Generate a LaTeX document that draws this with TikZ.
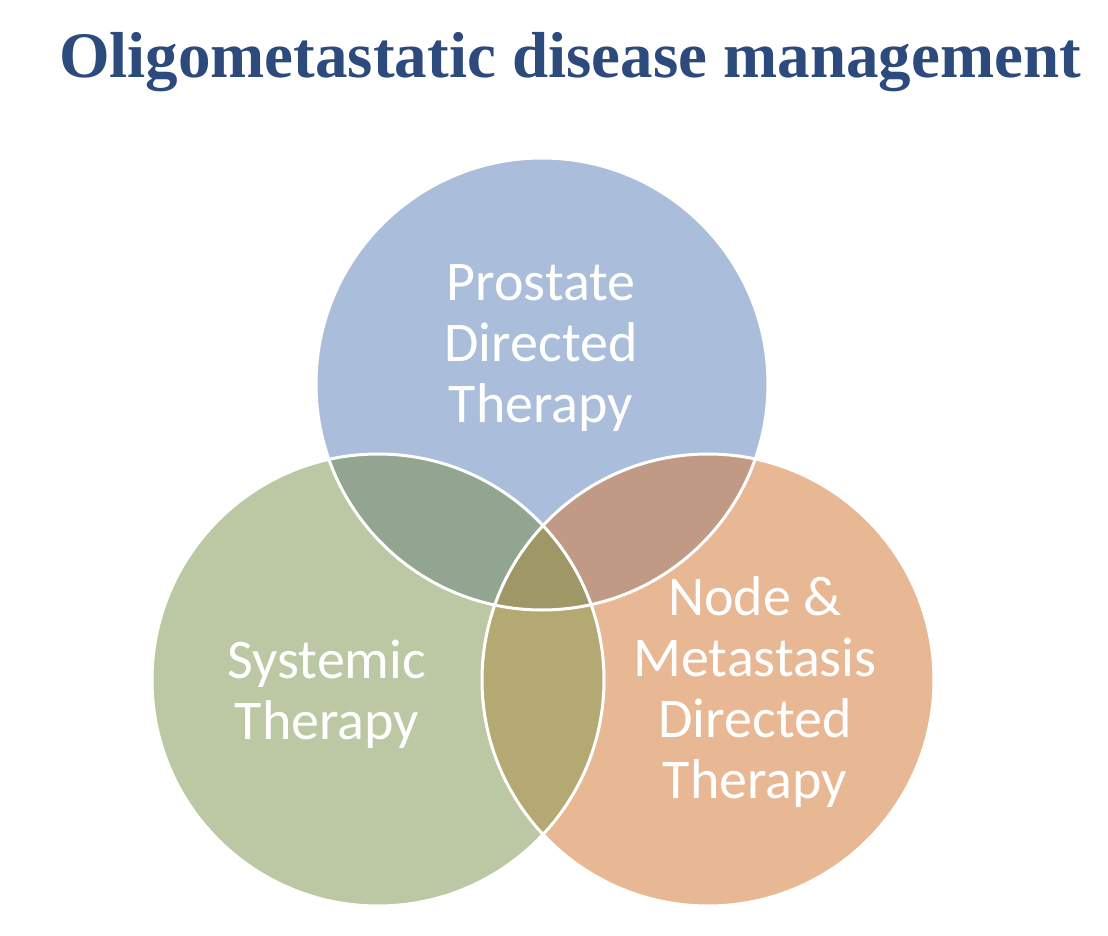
\documentclass[tikz,border=0pt]{standalone}
\usepackage{fontspec}
\setmainfont{Liberation Serif}
\newfontfamily\lbl{Carlito}
\definecolor{cT}{HTML}{AABEDB}
\definecolor{cL}{HTML}{BCC8A3}
\definecolor{cR}{HTML}{E8B895}
\definecolor{cTL}{HTML}{92A590}
\definecolor{cTR}{HTML}{C19A86}
\definecolor{cLR}{HTML}{B4A973}
\definecolor{cC}{HTML}{9E9766}
\definecolor{ttl}{HTML}{2D4A7C}
\begin{document}
\begin{tikzpicture}[x=1pt,y=-1pt,
  lab/.style={text=white,font=\lbl\fontsize{56}{61}\selectfont,align=center},
  rim/.style={draw=white,line width=3pt}]
\useasboundingbox (0,0) rectangle (1108,936);
\coordinate (T) at (542,384);
\coordinate (L) at (378,680);
\coordinate (R) at (708,680);
\def\rr{226}
\fill[cT] (T) circle (\rr);
\fill[cL] (L) circle (\rr);
\fill[cR] (R) circle (\rr);
\begin{scope}\clip (T) circle (\rr); \fill[cTL] (L) circle (\rr); \fill[cTR] (R) circle (\rr);\end{scope}
\begin{scope}\clip (L) circle (\rr); \fill[cLR] (R) circle (\rr);
  \clip (R) circle (\rr); \fill[cC] (T) circle (\rr);\end{scope}
\draw[rim] (T) circle (\rr) (L) circle (\rr) (R) circle (\rr);
\node[text=ttl,font=\bfseries\fontsize{65}{70}\selectfont] (title) at (570,62) {Oligometastatic disease management};
\node[lab] (pt) at (541,348) {Prostate\\Directed\\Therapy};
\node[lab] (st) at (327,694) {Systemic\\Therapy};
\node[lab] (nt) at (755,692) {Node \&\\Metastasis\\Directed\\Therapy};
\end{tikzpicture}
\end{document}
